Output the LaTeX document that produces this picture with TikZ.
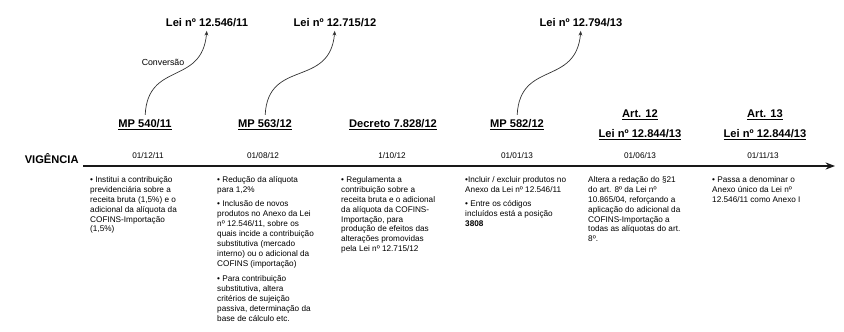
\documentclass[tikz,border=0pt]{standalone}
\usepackage{fontspec}
\setmainfont{Liberation Sans}
\usepackage{tikz}
\usetikzlibrary{positioning}
\usetikzlibrary{arrows.meta}
\pgfdeclarelayer{nodelayer}
\pgfdeclarelayer{edgelayer}
\pgfsetlayers{nodelayer,edgelayer,main}
\tikzset{
    none/.style = {inner sep=0pt},
    marco/.style = {inner sep=1pt, font=\bfseries\fontsize{9.5}{11}\selectfont},
    data/.style = {inner sep=0pt, font=\fontsize{7}{8.5}\selectfont},
    texto/.style = {inner sep=0pt, anchor=north west, align=left, font=\fontsize{7}{8.5}\selectfont},
    conversao/.style = {-{Stealth[length=4pt,width=3.2pt]}, line width=0.6pt, draw=black!80, shorten <=3pt, shorten >=2pt},
    eixo/.style = {-{Stealth[length=8pt,width=6pt]}, line width=1.8pt, draw=black!90}
}

\begin{document}
\begin{tikzpicture}
    \useasboundingbox (0, 0) rectangle (25.32, 9.93);
    \begin{pgfonlayer}{nodelayer}
        % linha do tempo
        \node [style=none] (0) at (2.49, 4.95) {};
        \node [style=none] (1) at (25.05, 4.95) {};
        \node [style=marco, anchor=east] (2) at (2.4, 5.16) {VIGÊNCIA};
        % marcos
        \node [style=marco] (3) at (4.35, 6.18) {\underline{MP 540/11}};
        \node [style=marco] (4) at (7.95, 6.18) {\underline{MP 563/12}};
        \node [style=marco] (5) at (11.79, 6.18) {\underline{Decreto 7.828/12}};
        \node [style=marco] (6) at (15.51, 6.18) {\underline{MP 582/12}};
        \node [style=marco] (7) at (19.2, 6.48) {\underline{Art. 12}};
        \node [style=marco] (8) at (19.2, 5.88) {\underline{Lei nº 12.844/13}};
        \node [style=marco] (9) at (22.95, 6.48) {\underline{Art. 13}};
        \node [style=marco] (10) at (22.95, 5.88) {\underline{Lei nº 12.844/13}};
        % leis de conversao
        \node [style=marco] (11) at (6.21, 9.24) {Lei nº 12.546/11};
        \node [style=marco] (12) at (10.05, 9.24) {Lei nº 12.715/12};
        \node [style=marco] (13) at (17.43, 9.24) {Lei nº 12.794/13};
        \node [style=data, font=\fontsize{7.5}{9}\selectfont] (14) at (4.89, 8.07) {Conversão};
        % datas
        \node [style=data] (15) at (4.44, 5.25) {01/12/11};
        \node [style=data] (16) at (7.89, 5.25) {01/08/12};
        \node [style=data] (17) at (11.76, 5.25) {1/10/12};
        \node [style=data] (18) at (15.51, 5.25) {01/01/13};
        \node [style=data] (19) at (19.2, 5.25) {01/06/13};
        \node [style=data] (20) at (22.89, 5.25) {01/11/13};
        % textos
        \node [style=texto] (21) at (2.7, 4.65) {• Institui a contribuição\\previdenciária sobre a\\receita bruta (1,5\%) e o\\adicional da alíquota da\\COFINS-Importação\\(1,5\%)};
        \node [style=texto] (22) at (6.51, 4.65) {• Redução da alíquota\\para 1,2\%\\[4pt]• Inclusão de novos\\produtos no Anexo da Lei\\nº 12.546/11, sobre os\\quais incide a contribuição\\substitutiva (mercado\\interno) ou o adicional da\\COFINS (importação)\\[4pt]• Para contribuição\\substitutiva, altera\\critérios de sujeição\\passiva, determinação da\\base de cálculo etc.};
        \node [style=texto] (23) at (10.23, 4.65) {• Regulamenta a\\contribuição sobre a\\receita bruta e o adicional\\da alíquota da COFINS-\\Importação, para\\produção de efeitos das\\alterações promovidas\\pela Lei nº 12.715/12};
        \node [style=texto] (24) at (13.95, 4.65) {•Incluir / excluir produtos no\\Anexo da Lei nº 12.546/11\\[4pt]• Entre os códigos\\incluídos está a posição\\\textbf{3808}};
        \node [style=texto] (25) at (17.64, 4.65) {Altera a redação do §21\\do art. 8º da Lei nº\\10.865/04, reforçando a\\aplicação do adicional da\\COFINS-Importação a\\todas as alíquotas do art.\\8º.};
        \node [style=texto] (26) at (21.36, 4.65) {• Passa a denominar o\\Anexo único da Lei nº\\12.546/11 como Anexo I};
    \end{pgfonlayer}
    \begin{pgfonlayer}{edgelayer}
        \draw [style=eixo] (0.center) to (1.center);
        \draw [style=conversao] (3.north) to[out=87, in=-95, looseness=1.35] (11.south);
        \draw [style=conversao] (4.north) to[out=87, in=-95, looseness=1.35] (12.south);
        \draw [style=conversao] (6.north) to[out=87, in=-95, looseness=1.35] (13.south);
    \end{pgfonlayer}
\end{tikzpicture}
\end{document}
